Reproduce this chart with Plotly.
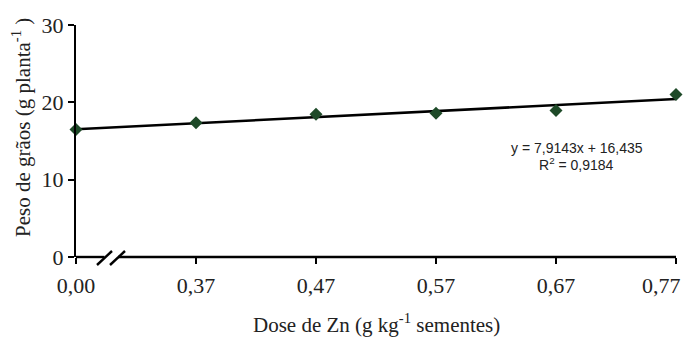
import plotly.graph_objects as go

doses = ["0,00", "0,37", "0,47", "0,57", "0,67", "0,77"]
peso = [16.5, 17.35, 18.45, 18.6, 18.95, 21.0]
y_ticks = [0, 10, 20, 30]
equation_text = "y = 7,9143x + 16,435"
r2_text = "R<sup>2</sup> = 0,9184"

idx = list(range(len(doses)))
n = len(idx)
mx = sum(idx) / n
my = sum(peso) / n
slope = sum((i - mx) * (v - my) for i, v in zip(idx, peso)) / sum((i - mx) ** 2 for i in idx)
intercept = my - slope * mx
trend = [slope * i + intercept for i in idx]

W, H = 688, 338
L, R, T, B = 76, 12, 25, 81
pw, ph = W - L - R, H - T - B

def px_x(p):
    return (p - L) / pw

def px_y(p):
    return (H - B - p) / ph

SERIF = "Liberation Serif"
SANS = "Liberation Sans"
TXT = "#222222"

fig = go.Figure()
fig.add_trace(go.Scatter(x=idx, y=trend, mode="lines",
                         line=dict(color="black", width=2.6), showlegend=False))
fig.add_trace(go.Scatter(x=idx, y=peso, mode="markers",
                         marker=dict(symbol="diamond", size=10, color="#1e4a28"),
                         cliponaxis=False, showlegend=False))

ticktext = doses[:-1] + [""]
fig.update_layout(
    width=W, height=H,
    margin=dict(l=L, r=R, t=T, b=B),
    paper_bgcolor="white", plot_bgcolor="white",
    xaxis=dict(range=[0, n - 1], tickmode="array", tickvals=idx, ticktext=ticktext,
               showgrid=False, zeroline=False, showline=False,
               ticks="outside", ticklen=6, tickwidth=2, tickcolor="black",
               ticklabelstandoff=3,
               tickfont=dict(family=SERIF, size=22, color=TXT)),
    yaxis=dict(range=[0, 30], tickmode="array", tickvals=y_ticks, showgrid=False,
               zeroline=False, showline=True, linecolor="black", linewidth=2.4,
               ticks="outside", ticklen=6, tickwidth=2, tickcolor="black",
               tickfont=dict(family=SERIF, size=22, color=TXT)),
    showlegend=False,
)

# last category label, pulled left so it fits inside the figure (as in the reference)
fig.add_annotation(xref="x", yref="paper", x=idx[-1], y=px_y(285.5), text=doses[-1],
                   showarrow=False, xanchor="right", yanchor="middle", xshift=7,
                   font=dict(family=SERIF, size=22, color=TXT))

# x axis line with break marks
y0 = px_y(257)
fig.add_shape(type="line", xref="paper", yref="paper", x0=0, x1=px_x(104.5), y0=y0, y1=y0,
              line=dict(color="black", width=2.4))
fig.add_shape(type="line", xref="paper", yref="paper", x0=px_x(118), x1=1, y0=y0, y1=y0,
              line=dict(color="black", width=2.4))
for a, b in [(97, 112), (110, 125)]:
    fig.add_shape(type="line", xref="paper", yref="paper",
                  x0=px_x(a), y0=px_y(265), x1=px_x(b), y1=px_y(251),
                  line=dict(color="black", width=2.4))

# axis titles
fig.add_annotation(xref="paper", yref="paper", x=px_x(376), y=px_y(323),
                   text="Dose de Zn (g kg<sup>-1</sup> sementes)", showarrow=False,
                   xanchor="center", yanchor="middle",
                   font=dict(family=SERIF, size=21, color=TXT))
fig.add_annotation(xref="paper", yref="paper", x=px_x(21), y=px_y(128),
                   text="Peso de grãos (g planta<sup>-1</sup> )", showarrow=False,
                   textangle=-90, xanchor="center", yanchor="middle",
                   font=dict(family=SERIF, size=21, color=TXT))

# regression equation
fig.add_annotation(xref="paper", yref="paper", x=px_x(577), y=px_y(148),
                   text=equation_text, showarrow=False, xanchor="center", yanchor="middle",
                   font=dict(family=SANS, size=14, color=TXT))
fig.add_annotation(xref="paper", yref="paper", x=px_x(576), y=px_y(164),
                   text=r2_text, showarrow=False, xanchor="center", yanchor="middle",
                   font=dict(family=SANS, size=14, color=TXT))

fig.write_html("out.html")
